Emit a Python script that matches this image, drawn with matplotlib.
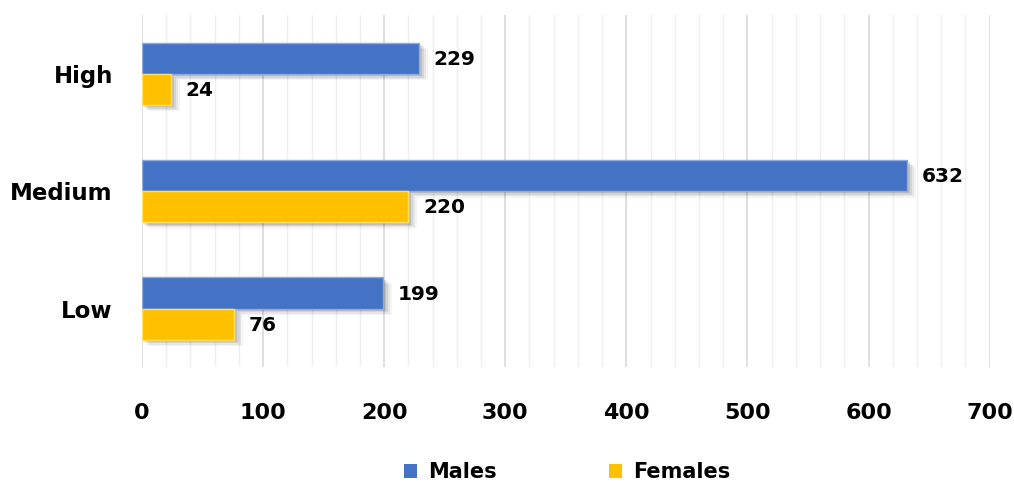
import numpy as np
from matplotlib import pyplot as plt
from matplotlib.patches import Patch
from matplotlib.ticker import MultipleLocator

categories = ['Low', 'Medium', 'High']
males = [199, 632, 229]
females = [76, 220, 24]

blue = '#4472C4'
gold = '#FFC000'

plt.rcParams['font.family'] = ['DejaVu Sans']
plt.rcParams['font.weight'] = 'bold'

fig = plt.figure(figsize=(10.14, 4.87), dpi=100)
ax = fig.add_axes([0.140, 0.246, 0.836, 0.723])

y = np.arange(len(categories))
h = 0.265

# soft shadow under the bars (offset down-right, a few layers)
for dx, dy, grow, a in [(2.0, 0.020, 0.010, 0.10), (3.5, 0.032, 0.020, 0.08),
                        (5.0, 0.044, 0.030, 0.06), (6.5, 0.056, 0.040, 0.04)]:
    ax.barh(y + h / 2 - dy, np.array(males) + grow * 50, height=h,
            left=dx - grow * 25, color='black', alpha=a, linewidth=0, zorder=2)
    ax.barh(y - h / 2 - dy, np.array(females) + grow * 50, height=h,
            left=dx - grow * 25, color='black', alpha=a, linewidth=0, zorder=2)

ax.barh(y + h / 2, males, height=h, color=blue, edgecolor='#8EA9DB',
        linewidth=1, zorder=3)
ax.barh(y - h / 2, females, height=h, color=gold, edgecolor='#FFE066',
        linewidth=1, zorder=3)

for i in range(len(categories)):
    ax.text(males[i] + 12, y[i] + h / 2 - 0.01, str(males[i]), va='center',
            ha='left', fontsize=14.5, fontweight='bold')
    ax.text(females[i] + 12, y[i] - h / 2 - 0.01, str(females[i]), va='center',
            ha='left', fontsize=14.5, fontweight='bold')

ax.set_xlim(0, 700)
ax.set_ylim(-0.5, 2.5)
ax.set_yticks(y)
ax.set_yticklabels(categories, fontsize=16.5, fontweight='bold')
ax.xaxis.set_major_locator(MultipleLocator(100))
ax.xaxis.set_minor_locator(MultipleLocator(20))
ax.tick_params(axis='x', labelsize=16, length=0, pad=26, which='both')
ax.tick_params(axis='y', length=0, pad=21)
for lab in ax.get_xticklabels():
    lab.set_fontweight('bold')

ax.grid(axis='x', which='major', color='#D9D9D9', linewidth=1.2, zorder=0)
ax.grid(axis='x', which='minor', color='#EFEFEF', linewidth=1.0, zorder=0)
ax.set_axisbelow(True)
for s in ax.spines.values():
    s.set_visible(False)

handles = [Patch(facecolor=blue, label='Males'),
           Patch(facecolor=gold, label='Females')]
fig.legend(handles=handles, loc='center', bbox_to_anchor=(0.559, 0.031),
           ncol=2, frameon=False, handlelength=0.65,
           handleheight=0.65, handletextpad=0.5, columnspacing=5.4,
           prop={'weight': 'bold', 'size': 15})

fig.savefig('out.png', dpi=100)
